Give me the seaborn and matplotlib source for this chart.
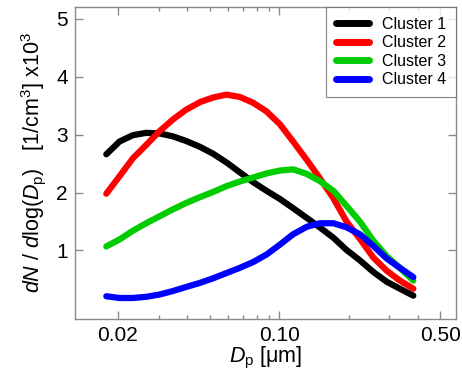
import numpy as np
import pandas as pd
import matplotlib
matplotlib.use("Agg")
import matplotlib.pyplot as plt
from matplotlib.ticker import FixedLocator, NullFormatter
import seaborn as sns

# Particle diameter grid (µm)
diameters = [0.0178, 0.0203, 0.0232, 0.0265, 0.0303, 0.0346, 0.0395, 0.0453,
             0.0517, 0.0591, 0.0675, 0.0771, 0.0882, 0.1007, 0.115, 0.132,
             0.150, 0.172, 0.196, 0.224, 0.256, 0.293, 0.334, 0.382]

# Number size distributions, dN/dlog(Dp) in units of 10^3 cm^-3
cluster1 = [2.66, 2.88, 2.99, 3.03, 3.02, 2.97, 2.89, 2.79, 2.67, 2.52, 2.35, 2.18,
            2.03, 1.89, 1.73, 1.56, 1.40, 1.22, 1.01, 0.83, 0.63, 0.46, 0.34, 0.22]
cluster2 = [1.98, 2.28, 2.59, 2.82, 3.06, 3.26, 3.43, 3.56, 3.64, 3.69, 3.65, 3.55,
            3.40, 3.18, 2.88, 2.56, 2.25, 1.90, 1.50, 1.20, 0.88, 0.65, 0.48, 0.34]
cluster3 = [1.07, 1.19, 1.34, 1.47, 1.59, 1.71, 1.82, 1.92, 2.01, 2.11, 2.19, 2.26,
            2.33, 2.38, 2.40, 2.32, 2.20, 2.03, 1.77, 1.50, 1.17, 0.90, 0.70, 0.48]
cluster4 = [0.21, 0.18, 0.18, 0.20, 0.24, 0.30, 0.37, 0.44, 0.52, 0.61, 0.70, 0.80,
            0.93, 1.10, 1.28, 1.41, 1.47, 1.47, 1.40, 1.28, 1.08, 0.86, 0.70, 0.54]

labels = ["Cluster 1", "Cluster 2", "Cluster 3", "Cluster 4"]
colors = ["#000000", "#ff0000", "#00cc00", "#0000ff"]
x_ticks = [0.02, 0.10, 0.50]
x_ticklabels = ["0.02", "0.10", "0.50"]
y_ticks = [1, 2, 3, 4, 5]

frames = []
for lab, vals in zip(labels, [cluster1, cluster2, cluster3, cluster4]):
    frames.append(pd.DataFrame({"Dp": diameters, "dN": vals, "cluster": lab}))
df = pd.concat(frames, ignore_index=True)

sns.set_style("ticks")
plt.rcParams["font.family"] = ["Liberation Sans", "DejaVu Sans"]
plt.rcParams["mathtext.fontset"] = "custom"
plt.rcParams["mathtext.rm"] = "Liberation Sans"
plt.rcParams["mathtext.it"] = "Liberation Sans:italic"
plt.rcParams["text.color"] = "black"
plt.rcParams["axes.labelcolor"] = "black"
plt.rcParams["xtick.color"] = "black"
plt.rcParams["ytick.color"] = "black"

fig = plt.figure(figsize=(4.62, 3.76), dpi=100)
ax = fig.add_axes([0.162, 0.152, 0.825, 0.829])

sns.lineplot(data=df, x="Dp", y="dN", hue="cluster", palette=colors,
             linewidth=4.5, ax=ax, legend=True, solid_capstyle="round",
             solid_joinstyle="round")

ax.set_xscale("log")
ax.set_xlim(0.013, 0.585)
ax.set_ylim(-0.18, 5.2)

ax.xaxis.set_major_locator(FixedLocator(x_ticks))
ax.set_xticklabels(x_ticklabels)
minor = [0.03, 0.04, 0.05, 0.06, 0.07, 0.08, 0.09, 0.2, 0.3, 0.4]
ax.xaxis.set_minor_locator(FixedLocator(minor))
ax.xaxis.set_minor_formatter(NullFormatter())
ax.set_yticks(y_ticks)

spine_color = "#8a8a8a"
for s in ax.spines.values():
    s.set_color(spine_color)
    s.set_linewidth(1.0)
ax.tick_params(axis="both", which="both", direction="in", top=True, right=True,
               color=spine_color, labelcolor="black", labelsize=15, pad=5, width=1)
ax.tick_params(axis="both", which="major", length=6)
ax.tick_params(axis="x", which="minor", length=3)

ax.set_xlabel(r"$D_{\rm p}$ [$\rm\mu$m]", fontsize=15.5, labelpad=0)
ax.set_ylabel(r"$dN$ / $d$log($D_{\rm p}$)   [1/cm$^3$] x10$^3$", fontsize=15.5, labelpad=6)

leg = ax.legend(loc="upper right", frameon=True, fontsize=11.5, handlelength=2.1,
                borderaxespad=0, fancybox=False, borderpad=0.6, labelspacing=0.22,
                handletextpad=0.8)
leg.get_frame().set_edgecolor("#666666")
leg.get_frame().set_linewidth(0.8)
for line in leg.get_lines():
    line.set_linewidth(5)
    line.set_solid_capstyle("round")

fig.savefig("out.png", dpi=100)
